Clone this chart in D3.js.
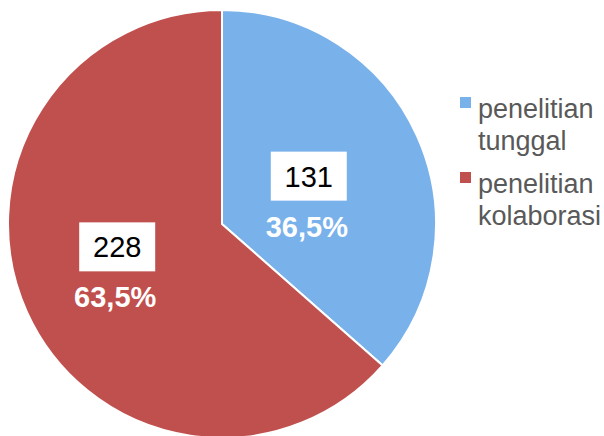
<!DOCTYPE html>
<html>
<head>
<meta charset="utf-8">
<script src="https://cdn.jsdelivr.net/npm/d3@7"></script>
<style>
  body { margin: 0; background: #fff; }
  svg { display: block; font-family: "Liberation Sans", Arial, sans-serif; }
</style>
</head>
<body>
<div class="canvas"></div>
<script>
// data
const categories = ['penelitian tunggal', 'penelitian kolaborasi'];
const counts = [131, 228];
const percentLabels = ['36,5%', '63,5%'];
const legendLines = [['penelitian', 'tunggal'], ['penelitian', 'kolaborasi']];
const colors = ['#79b1ea', '#c0504d'];
// small nudges so labels sit where the original put them
const labelNudge = [[-18, 24], [0, 0]];

const dims = {width: 604, height: 436, radius: 214};
const cent = {x: 222, y: 224};

const data = categories.map((c, i) => ({name: c, count: counts[i], pct: percentLabels[i], nudge: labelNudge[i]}));

const svg = d3.select('.canvas')
    .append('svg').attr('width', dims.width).attr('height', dims.height);

const graph = svg.append('g').attr('transform', `translate(${cent.x},${cent.y})`);

const pie = d3.pie().value(d => d.count).sort(null);
const arcPath = d3.arc().innerRadius(0).outerRadius(dims.radius);
const labelArc = d3.arc().innerRadius(115).outerRadius(115);

const color = d3.scaleOrdinal().domain(categories).range(colors);

const slices = pie(data);

graph.selectAll('path')
    .data(slices)
    .enter()
    .append('path')
        .attr('d', arcPath)
        .attr('fill', d => color(d.data.name))
        .attr('stroke', '#fff')
        .attr('stroke-width', 2);

// labels: white box with count, bold white percentage below
const labels = graph.selectAll('g.label')
    .data(slices)
    .enter()
    .append('g')
        .attr('class', 'label')
        .attr('transform', d => {
            const [x, y] = labelArc.centroid(d);
            return `translate(${x + d.data.nudge[0]},${y + d.data.nudge[1]})`;
        });

labels.append('rect')
    .attr('x', -38).attr('y', -49)
    .attr('width', 76).attr('height', 49)
    .attr('fill', '#fff');

labels.append('text')
    .attr('text-anchor', 'middle')
    .attr('y', -14)
    .attr('font-size', 29)
    .attr('fill', '#000')
    .text(d => d.data.count);

labels.append('text')
    .attr('text-anchor', 'middle')
    .attr('x', -2)
    .attr('y', 36)
    .attr('font-size', 29)
    .attr('font-weight', 'bold')
    .attr('fill', '#fff')
    .text(d => d.data.pct);

// legend
const legend = svg.append('g').attr('transform', 'translate(460,0)');

const items = legend.selectAll('g')
    .data(data)
    .enter()
    .append('g')
        .attr('transform', (d, i) => `translate(0,${118 + i * 75})`);

items.append('rect')
    .attr('x', 0).attr('y', -21)
    .attr('width', 11).attr('height', 11)
    .attr('fill', d => color(d.name));

items.append('text')
    .attr('x', 18)
    .attr('font-size', 27)
    .attr('fill', '#595959')
    .selectAll('tspan')
    .data((d, i) => legendLines[i])
    .enter()
    .append('tspan')
        .attr('x', 18)
        .attr('dy', (d, i) => i === 0 ? 0 : 32)
        .text(d => d);
</script>
</body>
</html>
